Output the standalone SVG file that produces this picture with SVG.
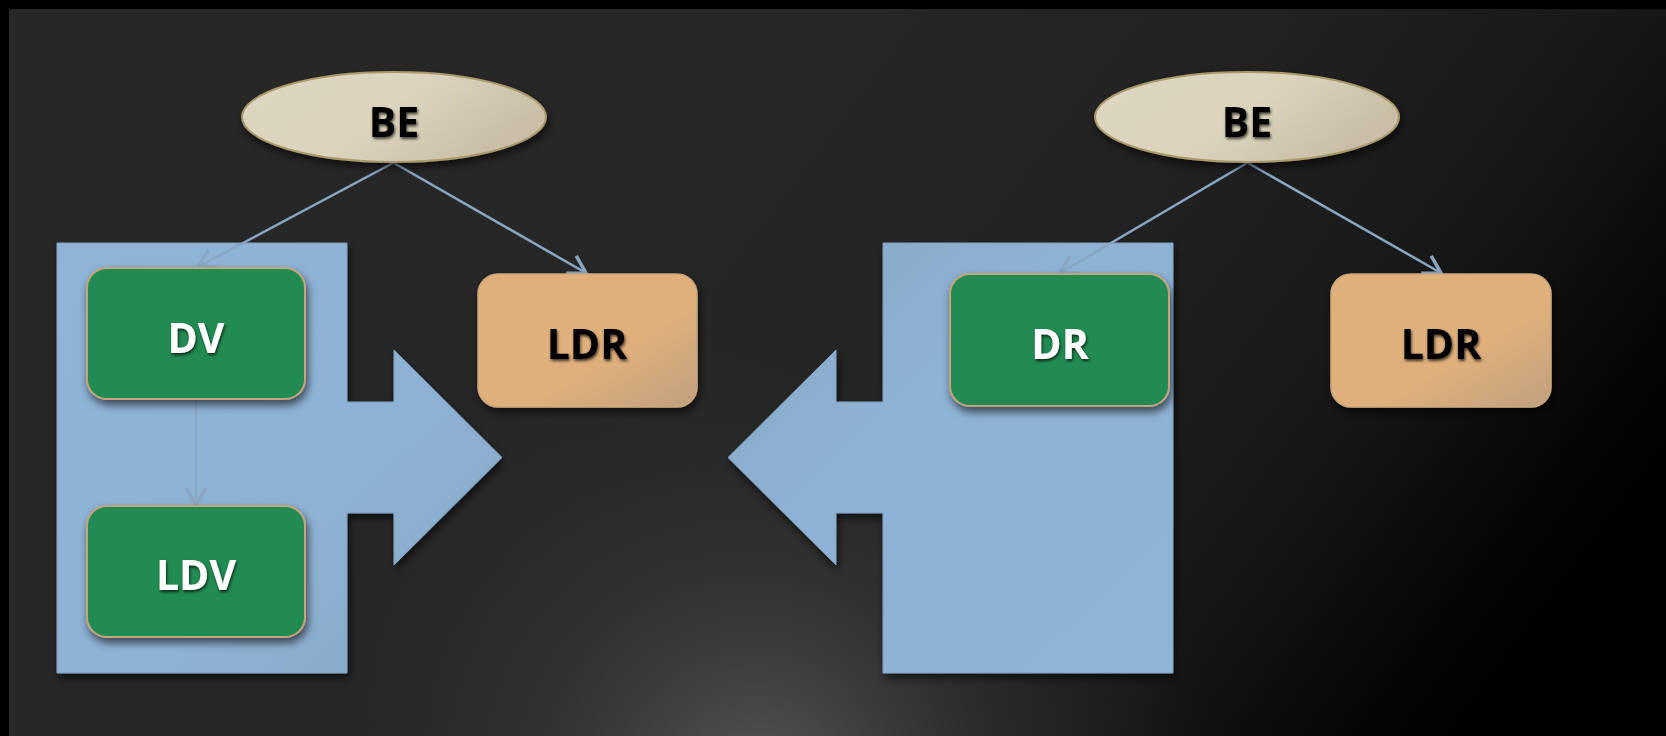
<svg xmlns="http://www.w3.org/2000/svg" width="1666" height="736" viewBox="0 0 1666 736">
<defs>
<linearGradient id="bg" x1="700" y1="100" x2="1500" y2="700" gradientUnits="userSpaceOnUse">
<stop offset="0" stop-color="#272727"/>
<stop offset="0.4" stop-color="#222222"/>
<stop offset="0.7" stop-color="#171717"/>
<stop offset="0.9" stop-color="#060606"/>
<stop offset="1" stop-color="#000000"/>
</linearGradient>
<radialGradient id="glow" cx="760" cy="790" r="460" gradientUnits="userSpaceOnUse">
<stop offset="0" stop-color="#5e5e5e" stop-opacity="0.9"/>
<stop offset="0.5" stop-color="#444" stop-opacity="0.4"/>
<stop offset="1" stop-color="#333" stop-opacity="0"/>
</radialGradient>
<linearGradient id="ell" x1="0" y1="0" x2="1" y2="0.4">
<stop offset="0" stop-color="#DDD6C0"/>
<stop offset="0.55" stop-color="#DCD4BD"/>
<stop offset="1" stop-color="#C8BFA6"/>
</linearGradient>
<linearGradient id="ldr" x1="0" y1="0" x2="1" y2="1">
<stop offset="0" stop-color="#E0B07C"/>
<stop offset="0.6" stop-color="#E0B07C"/>
<stop offset="1" stop-color="#BFA07F"/>
</linearGradient>
<linearGradient id="blue" x1="0" y1="0" x2="1" y2="1">
<stop offset="0" stop-color="#8FB4D8"/>
<stop offset="0.6" stop-color="#8EB2D4"/>
<stop offset="1" stop-color="#88A8C4"/>
</linearGradient>
<linearGradient id="blue2" x1="1" y1="1" x2="0" y2="0">
<stop offset="0" stop-color="#8FB4D8"/>
<stop offset="0.6" stop-color="#8EB2D4"/>
<stop offset="1" stop-color="#88A8C4"/>
</linearGradient>
<filter id="sh" x="-20%" y="-20%" width="140%" height="150%">
<feDropShadow dx="2" dy="5" stdDeviation="4" flood-color="#000" flood-opacity="0.6"/>
</filter>
<filter id="tsh" x="-20%" y="-20%" width="140%" height="150%">
<feDropShadow dx="1" dy="2" stdDeviation="1.5" flood-color="#000" flood-opacity="0.7"/>
</filter>
<marker id="arr" viewBox="0 0 24 24" refX="21" refY="12" markerWidth="24" markerHeight="24" orient="auto" markerUnits="userSpaceOnUse">
<path d="M4,2 L21,12 L4,22" fill="none" stroke="#8AA7C2" stroke-width="3.5"/>
</marker>
<style>
.lbl{font-family:"Open Sans","Noto Sans","Liberation Sans",sans-serif;font-weight:700;font-size:41px;text-anchor:middle;filter:url(#tsh)}
.w{fill:#ffffff}
.k{fill:#000000}
.green{fill:#228A52;stroke:#C4A57A;stroke-width:2;filter:url(#sh)}
.orange{fill:url(#ldr);stroke:#C9A67C;stroke-width:1.5;filter:url(#sh)}
.oval{fill:url(#ell);stroke:#A89A6A;stroke-width:2;filter:url(#sh)}
.conn{fill:none;stroke:#8AA7C2;stroke-width:2.5;marker-end:url(#arr)}
</style>
</defs>
<rect x="0" y="0" width="1666" height="736" fill="#000"/>
<rect x="9" y="9" width="1657" height="727" fill="url(#bg)"/>
<rect x="9" y="9" width="1657" height="727" fill="url(#glow)"/>

<g id="left-block">
<path d="M57,243 H347 V402 H394 V350 L502,457.5 L394,565 V513 H347 V673 H57 Z" fill="url(#blue)" stroke="#7F9FBE" stroke-width="1" filter="url(#sh)"/>
</g>
<g id="right-block">
<path d="M1173,243 V673 H883 V513 H836 V565 L728,457.5 L836,350 V402 H883 V243 Z" fill="url(#blue2)" stroke="#7F9FBE" stroke-width="1" filter="url(#sh)"/>
</g>

<g id="connectors">
<line class="conn" x1="393" y1="163" x2="198" y2="267"/>
<line class="conn" x1="394" y1="163" x2="586" y2="273"/>
<line class="conn" x1="196" y1="400" x2="196" y2="505"/>
<line class="conn" x1="1247" y1="163" x2="1060" y2="273"/>
<line class="conn" x1="1248" y1="163" x2="1441" y2="273"/>
</g>

<g id="be-left">
<ellipse class="oval" cx="394" cy="117" rx="152" ry="45"/>
<text class="lbl k" x="394" y="137">BE</text>
</g>
<g id="dv">
<rect class="green" x="87" y="268" width="218" height="131" rx="20"/>
<text class="lbl w" x="196" y="353">DV</text>
</g>
<g id="ldv">
<rect class="green" x="87" y="506" width="218" height="131" rx="20"/>
<text class="lbl w" x="196" y="590">LDV</text>
</g>
<g id="ldr-left">
<rect class="orange" x="478" y="274" width="219" height="133" rx="20"/>
<text class="lbl k" x="587" y="359">LDR</text>
</g>

<g id="be-right">
<ellipse class="oval" cx="1247" cy="117" rx="152" ry="45"/>
<text class="lbl k" x="1247" y="137">BE</text>
</g>
<g id="dr">
<rect class="green" x="950" y="274" width="219" height="132" rx="20"/>
<text class="lbl w" x="1060" y="359">DR</text>
</g>
<g id="ldr-right">
<rect class="orange" x="1331" y="274" width="220" height="133" rx="20"/>
<text class="lbl k" x="1441" y="359">LDR</text>
</g>
</svg>
